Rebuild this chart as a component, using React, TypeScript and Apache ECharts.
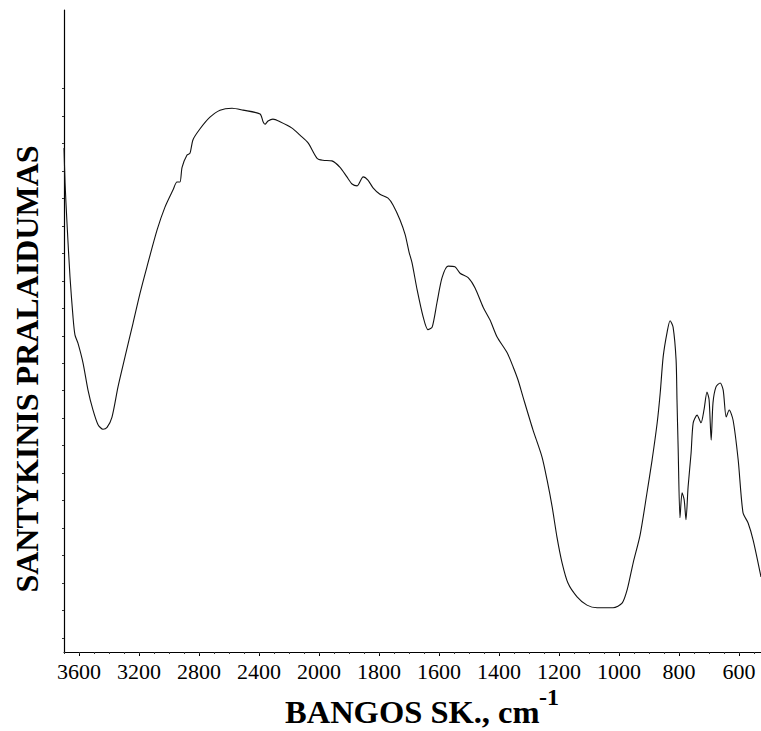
import React, { useEffect, useRef } from "react";
import * as echarts from "echarts";

// Wavenumber (cm-1) and relative transmittance (%)
const wavenumber = [
  3700, 3693, 3680, 3660, 3640, 3627, 3607, 3573, 3540, 3507, 3473, 3440, 3413, 3380, 3340, 3293,
  3240, 3193, 3147, 3080, 3027, 2973, 2947, 2927, 2913, 2880, 2860, 2840, 2793, 2727, 2660, 2580,
  2507, 2393, 2373, 2360, 2340, 2307, 2260, 2180, 2127, 2073, 2013, 1987, 1957, 1930, 1907, 1890,
  1873, 1853, 1837, 1820, 1797, 1770, 1753, 1730, 1713, 1700, 1690, 1673, 1653, 1637, 1623, 1607,
  1590, 1570, 1547, 1530, 1503, 1480, 1453, 1430, 1407, 1373, 1353, 1337, 1320, 1287, 1257, 1240,
  1223, 1207, 1190, 1170, 1140, 1107, 1073, 1020, 990, 973, 953, 930, 907, 890, 873, 863,
  853, 840, 830, 820, 810, 807, 803, 797, 790, 783, 777, 770, 760, 753, 740, 727,
  717, 707, 700, 693, 687, 677, 663, 653, 643, 633, 620, 603, 587, 570, 553, 527,
];
const transmittance = [
  78.5, 73.1, 66.8, 58.4, 52.2, 49.4, 48.1, 45.0, 40.8, 37.7, 35.4, 34.7, 35.0, 36.6, 41.3, 46.0,
  51.2, 55.9, 60.0, 65.7, 69.3, 72.0, 73.2, 73.2, 75.5, 77.4, 77.7, 79.8, 81.5, 83.3, 84.4, 84.7,
  84.4, 83.8, 82.6, 82.2, 82.7, 83.0, 82.6, 81.6, 80.5, 79.3, 76.9, 76.6, 76.5, 75.5, 74.0, 72.9,
  72.6, 74.0, 73.5, 72.3, 71.3, 70.7, 69.6, 67.3, 65.0, 62.3, 60.6, 56.4, 52.2, 50.2, 50.6, 54.4,
  58.3, 60.1, 60.0, 59.0, 58.3, 56.7, 53.7, 51.7, 49.1, 46.6, 44.4, 42.4, 39.7, 34.6, 30.4, 26.8,
  22.6, 17.9, 13.9, 10.7, 8.6, 7.3, 6.9, 6.9, 7.6, 9.7, 13.9, 18.2, 24.8, 29.9, 35.7, 40.3,
  46.0, 49.8, 51.6, 50.6, 45.5, 39.3, 31.5, 20.9, 24.8, 23.7, 20.6, 25.7, 31.0, 35.7, 36.9, 35.7,
  37.7, 40.5, 39.3, 33.0, 38.8, 41.3, 41.9, 40.8, 36.6, 37.7, 36.1, 29.9, 21.7, 20.1, 17.4, 11.7,
];
const xTickLabels = [3600, 3200, 2800, 2400, 2000, 1800, 1600, 1400, 1200, 1000, 800, 600];
const xMinWavenumber = 527;
const xMaxWavenumber = 3700;

// The spectrometer scale is compressed 2x above 2000 cm-1
const toAxis = (w: number) => (w > 2000 ? 2000 + (w - 2000) / 2 : w);
const fromAxis = (u: number) => (u > 2000 ? 2000 + (u - 2000) * 2 : u);

export default function App() {
  const ref = useRef<HTMLDivElement>(null);
  useEffect(() => {
    if (!ref.current) return;
    const chart = echarts.init(ref.current, null, { renderer: "svg" });
    const axisMin = toAxis(xMinWavenumber);
    const axisMax = toAxis(xMaxWavenumber);
    const majorTicks = xTickLabels.map(toAxis);
    const minorTicks: number[] = [];
    for (let u = 550; u <= axisMax; u += 50) minorTicks.push(u);
    const yTicks: number[] = [];
    for (let k = 0; k <= 20; k++) yTicks.push(2.18 + 4.28 * k);
    const serif = '"Liberation Serif", "Times New Roman", serif';

    chart.setOption({
      animation: false,
      backgroundColor: "#ffffff",
      grid: { left: 64, right: 0, top: 10, bottom: 79, outerBoundsMode: "none" },
      xAxis: [
        {
          type: "value",
          inverse: true,
          min: axisMin,
          max: axisMax,
          position: "bottom",
          splitLine: { show: false },
          axisLine: { show: true, lineStyle: { color: "#000", width: 1.2 } },
          axisTick: { show: true, customValues: majorTicks, length: 4, lineStyle: { color: "#000", width: 1 } },
          axisLabel: {
            customValues: majorTicks,
            formatter: (v: number) => String(Math.round(fromAxis(v))),
            color: "#000",
            fontFamily: serif,
            fontSize: 22,
            lineHeight: 22,
            margin: 8,
          },
        },
        {
          type: "value",
          inverse: true,
          min: axisMin,
          max: axisMax,
          position: "bottom",
          splitLine: { show: false },
          axisLine: { show: false },
          axisTick: { show: true, customValues: minorTicks, length: 2, lineStyle: { color: "#333", width: 1 } },
          axisLabel: { show: false },
        },
      ],
      yAxis: {
        type: "value",
        min: 0,
        max: 100,
        splitLine: { show: false },
        axisLine: { show: true, lineStyle: { color: "#000", width: 1.2 } },
        axisTick: { show: true, customValues: yTicks, length: 2, lineStyle: { color: "#333", width: 1 } },
        axisLabel: { show: false },
      },
      series: [
        {
          type: "line",
          xAxisIndex: 0,
          data: wavenumber.map((w, i) => [toAxis(w), transmittance[i]]),
          showSymbol: false,
          smooth: 0.25,
          lineStyle: { color: "#111", width: 1.1 },
        },
      ],
      graphic: [
        {
          type: "text",
          x: 285,
          y: 712,
          style: { text: "BANGOS SK., cm", font: `bold 32.5px ${serif}`, fill: "#000", textAlign: "left", textVerticalAlign: "middle" },
        },
        {
          type: "text",
          x: 539,
          y: 697,
          style: { text: "-1", font: `bold 24px ${serif}`, fill: "#000", textAlign: "left", textVerticalAlign: "middle" },
        },
        {
          type: "text",
          x: 27,
          y: 369,
          rotation: Math.PI / 2,
          style: { text: "SANTYKINIS PRALAIDUMAS", font: `bold 32px ${serif}`, fill: "#000", textAlign: "center", textVerticalAlign: "middle" },
        },
      ],
    });
    return () => chart.dispose();
  }, []);
  return <div ref={ref} style={{ position: "fixed", left: 0, top: 0, width: 761, height: 731 }} />;
}
